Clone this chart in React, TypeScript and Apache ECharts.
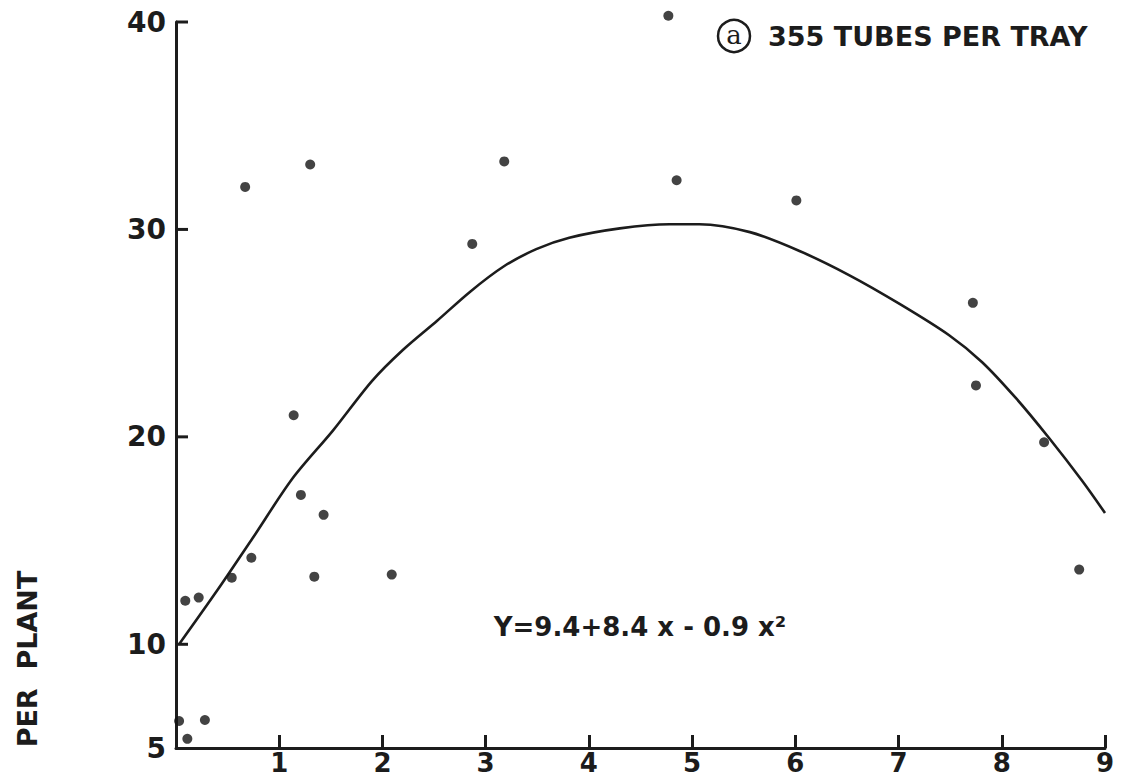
import React, { useEffect, useRef } from "react";
import * as echarts from "echarts";

// Observed points
const pointX = [4.77, 0.67, 1.3, 3.18, 4.85, 6.01, 2.87, 7.72, 7.75, 8.41, 8.75, 1.14, 1.21, 1.43, 0.73, 0.54, 1.34, 2.09, 0.09, 0.22, 0.03, 0.28, 0.11];
const pointY = [40.3, 32.05, 33.13, 33.28, 32.37, 31.4, 29.3, 26.46, 22.48, 19.74, 13.6, 21.04, 17.2, 16.24, 14.17, 13.21, 13.26, 13.36, 12.1, 12.25, 6.3, 6.35, 5.44];

// Fitted curve as drawn
const curveX = [0.03, 0.4, 0.74, 1.13, 1.52, 1.9, 2.2, 2.53, 2.85, 3.17, 3.49, 3.81, 4.3, 4.78, 5.07, 5.56, 6.04, 6.52, 7.01, 7.49, 7.81, 8.14, 8.46, 8.78, 9.0];
const curveY = [10.0, 12.6, 15.1, 18.0, 20.3, 22.7, 24.2, 25.6, 27.0, 28.2, 29.05, 29.6, 30.05, 30.25, 30.25, 29.87, 28.96, 27.8, 26.41, 24.9, 23.6, 21.85, 19.93, 17.87, 16.33];

// Axis ticks and labels
const xTickValues = [1, 2, 3, 4, 5, 6, 7, 8, 9];
const yTickValues = [10, 20, 30, 40];
const yLabelValues = [5, 10, 20, 30, 40];

const titleText = "355 TUBES PER TRAY";
const panelLetter = "a";
const equationText = "Y=9.4+8.4 x - 0.9 x\u00B2";
const yAxisTitle = "PER  PLANT";

const INK = "#1c1c1c";
const FONT = "DejaVu Sans";

export default function App() {
  const ref = useRef<HTMLDivElement>(null);

  useEffect(() => {
    if (!ref.current) return;
    const chart = echarts.init(ref.current, null, { renderer: "svg" });
    const scatterData = pointX.map((x, i) => [x, pointY[i]]);
    const curveData = curveX.map((x, i) => [x, curveY[i]]);
    const xMin = 0;
    const yMin = 5;

    chart.setOption({
      animation: false,
      backgroundColor: "#ffffff",
      grid: { left: 176, right: 16, top: 22, bottom: 31, containLabel: false },
      xAxis: {
        type: "value",
        min: xMin,
        max: 9,
        interval: 1,
        splitLine: { show: false },
        axisLine: { show: true, onZero: false, lineStyle: { color: INK, width: 3 } },
        axisTick: { show: true, inside: true, length: 13, lineStyle: { color: INK, width: 3 } },
        axisLabel: {
          show: true,
          margin: 3,
          color: INK,
          fontFamily: FONT,
          fontWeight: "bold",
          fontSize: 26,
          lineHeight: 24,
          formatter: (v: number) => (xTickValues.indexOf(v) >= 0 ? String(v) : ""),
        },
      },
      yAxis: {
        type: "value",
        min: yMin,
        max: 40,
        interval: 5,
        splitLine: { show: false },
        axisLine: { show: true, onZero: false, lineStyle: { color: INK, width: 3 } },
        axisTick: { show: false },
        axisLabel: {
          show: true,
          margin: 10,
          color: INK,
          fontFamily: FONT,
          fontWeight: "bold",
          fontSize: 28,
          formatter: (v: number) => (yLabelValues.indexOf(v) >= 0 ? String(v) : ""),
        },
      },
      series: [
        {
          type: "line",
          data: curveData,
          smooth: 0.3,
          showSymbol: false,
          clip: false,
          lineStyle: { color: INK, width: 2.6 },
          z: 2,
        },
        {
          type: "scatter",
          data: scatterData,
          symbol: "circle",
          symbolSize: 10,
          clip: false,
          itemStyle: { color: "#141414" },
          z: 3,
        },
      ],
    });

    // y tick marks (only at 10, 20, 30, 40) placed through the chart's own scale
    const tickEls: any[] = yTickValues.map((v) => {
      const p = chart.convertToPixel({ xAxisIndex: 0, yAxisIndex: 0 }, [xMin, v]) as number[];
      return {
        type: "rect",
        shape: { x: p[0], y: p[1] - 1.5, width: 12, height: 3 },
        style: { fill: INK },
        z: 10,
      };
    });

    chart.setOption({
      graphic: [
        ...tickEls,
        {
          type: "circle",
          shape: { cx: 734, cy: 36, r: 16 },
          style: { fill: "none", stroke: INK, lineWidth: 2.5 },
        },
        {
          type: "text",
          x: 734,
          y: 35,
          style: {
            text: panelLetter,
            fontFamily: "DejaVu Serif",
            fontSize: 26,
            fill: INK,
            align: "center",
            verticalAlign: "middle",
          },
        },
        {
          type: "text",
          x: 768,
          y: 36,
          style: {
            text: titleText,
            fontFamily: FONT,
            fontWeight: "bold",
            fontSize: 27,
            fill: INK,
            align: "left",
            verticalAlign: "middle",
          },
        },
        {
          type: "text",
          x: 640,
          y: 627,
          style: {
            text: equationText,
            fontFamily: FONT,
            fontWeight: "bold",
            fontSize: 26,
            fill: INK,
            align: "center",
            verticalAlign: "middle",
          },
        },
        {
          type: "text",
          x: 27,
          y: 659,
          rotation: Math.PI / 2,
          style: {
            text: yAxisTitle,
            fontFamily: FONT,
            fontWeight: "bold",
            fontSize: 27,
            fill: INK,
            align: "center",
            verticalAlign: "middle",
          },
        },
      ],
    });

    return () => {
      chart.dispose();
    };
  }, []);

  return (
    <div
      ref={ref}
      style={{ position: "fixed", left: 0, top: 0, width: 1121, height: 779, background: "#fff" }}
    />
  );
}
